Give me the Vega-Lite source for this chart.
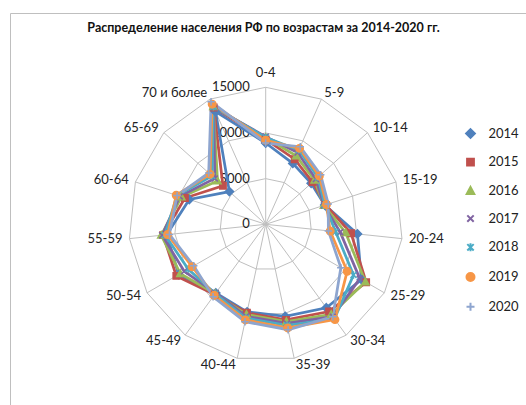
{
  "$schema": "https://vega.github.io/schema/vega-lite/v6.json",
  "width": 516,
  "height": 392,
  "autosize": {"type": "none"},
  "padding": {"left": 10, "top": 13, "right": 0, "bottom": 0},
  "background": "white",
  "config": {"view": {"stroke": "#BFBFBF", "strokeWidth": 1}, "font": "Lato"},
  "title": {"text": "Распределение населения РФ по возрастам за 2014-2020 гг.", "font": "Lato", "fontSize": 12.5, "fontWeight": "bold", "color": "#111111", "anchor": "middle", "frame": "group", "offset": -27, "baseline": "middle", "dx": -4.5},
  "datasets": {
    "cats": [
      {"age": "0-4", "i": 0}, {"age": "5-9", "i": 1}, {"age": "10-14", "i": 2}, {"age": "15-19", "i": 3},
      {"age": "20-24", "i": 4}, {"age": "25-29", "i": 5}, {"age": "30-34", "i": 6}, {"age": "35-39", "i": 7},
      {"age": "40-44", "i": 8}, {"age": "45-49", "i": 9}, {"age": "50-54", "i": 10}, {"age": "55-59", "i": 11},
      {"age": "60-64", "i": 12}, {"age": "65-69", "i": 13}, {"age": "70 и более", "i": 14}
    ],
    "ticks": [{"v": 0}, {"v": 5000}, {"v": 10000}, {"v": 15000}],
    "pop": [
      {"age": "0-4", "i": 0, "year": "2014", "v": 8900}, {"age": "5-9", "i": 1, "year": "2014", "v": 7300}, {"age": "10-14", "i": 2, "year": "2014", "v": 6700}, {"age": "15-19", "i": 3, "year": "2014", "v": 6800}, {"age": "20-24", "i": 4, "year": "2014", "v": 10100}, {"age": "25-29", "i": 5, "year": "2014", "v": 12100}, {"age": "30-34", "i": 6, "year": "2014", "v": 11300}, {"age": "35-39", "i": 7, "year": "2014", "v": 10300}, {"age": "40-44", "i": 8, "year": "2014", "v": 9800}, {"age": "45-49", "i": 9, "year": "2014", "v": 9300}, {"age": "50-54", "i": 10, "year": "2014", "v": 11000}, {"age": "55-59", "i": 11, "year": "2014", "v": 10900}, {"age": "60-64", "i": 12, "year": "2014", "v": 8800}, {"age": "65-69", "i": 13, "year": "2014", "v": 5350}, {"age": "70 и более", "i": 14, "year": "2014", "v": 13500},
      {"age": "0-4", "i": 0, "year": "2015", "v": 9300}, {"age": "5-9", "i": 1, "year": "2015", "v": 7800}, {"age": "10-14", "i": 2, "year": "2015", "v": 6900}, {"age": "15-19", "i": 3, "year": "2015", "v": 6900}, {"age": "20-24", "i": 4, "year": "2015", "v": 9400}, {"age": "25-29", "i": 5, "year": "2015", "v": 12700}, {"age": "30-34", "i": 6, "year": "2015", "v": 11800}, {"age": "35-39", "i": 7, "year": "2015", "v": 10700}, {"age": "40-44", "i": 8, "year": "2015", "v": 9900}, {"age": "45-49", "i": 9, "year": "2015", "v": 9500}, {"age": "50-54", "i": 10, "year": "2015", "v": 11300}, {"age": "55-59", "i": 11, "year": "2015", "v": 11300}, {"age": "60-64", "i": 12, "year": "2015", "v": 9300}, {"age": "65-69", "i": 13, "year": "2015", "v": 6300}, {"age": "70 и более", "i": 14, "year": "2015", "v": 14000},
      {"age": "0-4", "i": 0, "year": "2016", "v": 9500}, {"age": "5-9", "i": 1, "year": "2016", "v": 8200}, {"age": "10-14", "i": 2, "year": "2016", "v": 7200}, {"age": "15-19", "i": 3, "year": "2016", "v": 6700}, {"age": "20-24", "i": 4, "year": "2016", "v": 8800}, {"age": "25-29", "i": 5, "year": "2016", "v": 12600}, {"age": "30-34", "i": 6, "year": "2016", "v": 12200}, {"age": "35-39", "i": 7, "year": "2016", "v": 10900}, {"age": "40-44", "i": 8, "year": "2016", "v": 10100}, {"age": "45-49", "i": 9, "year": "2016", "v": 9400}, {"age": "50-54", "i": 10, "year": "2016", "v": 10800}, {"age": "55-59", "i": 11, "year": "2016", "v": 11500}, {"age": "60-64", "i": 12, "year": "2016", "v": 9700}, {"age": "65-69", "i": 13, "year": "2016", "v": 7100}, {"age": "70 и более", "i": 14, "year": "2016", "v": 14100},
      {"age": "0-4", "i": 0, "year": "2017", "v": 9600}, {"age": "5-9", "i": 1, "year": "2017", "v": 8600}, {"age": "10-14", "i": 2, "year": "2017", "v": 7400}, {"age": "15-19", "i": 3, "year": "2017", "v": 6700}, {"age": "20-24", "i": 4, "year": "2017", "v": 8200}, {"age": "25-29", "i": 5, "year": "2017", "v": 11900}, {"age": "30-34", "i": 6, "year": "2017", "v": 12500}, {"age": "35-39", "i": 7, "year": "2017", "v": 11100}, {"age": "40-44", "i": 8, "year": "2017", "v": 10300}, {"age": "45-49", "i": 9, "year": "2017", "v": 9300}, {"age": "50-54", "i": 10, "year": "2017", "v": 10300}, {"age": "55-59", "i": 11, "year": "2017", "v": 11400}, {"age": "60-64", "i": 12, "year": "2017", "v": 9900}, {"age": "65-69", "i": 13, "year": "2017", "v": 7500}, {"age": "70 и более", "i": 14, "year": "2017", "v": 14000},
      {"age": "0-4", "i": 0, "year": "2018", "v": 9500}, {"age": "5-9", "i": 1, "year": "2018", "v": 8900}, {"age": "10-14", "i": 2, "year": "2018", "v": 7700}, {"age": "15-19", "i": 3, "year": "2018", "v": 6800}, {"age": "20-24", "i": 4, "year": "2018", "v": 7700}, {"age": "25-29", "i": 5, "year": "2018", "v": 11100}, {"age": "30-34", "i": 6, "year": "2018", "v": 12800}, {"age": "35-39", "i": 7, "year": "2018", "v": 11300}, {"age": "40-44", "i": 8, "year": "2018", "v": 10500}, {"age": "45-49", "i": 9, "year": "2018", "v": 9400}, {"age": "50-54", "i": 10, "year": "2018", "v": 9800}, {"age": "55-59", "i": 11, "year": "2018", "v": 11100}, {"age": "60-64", "i": 12, "year": "2018", "v": 10200}, {"age": "65-69", "i": 13, "year": "2018", "v": 7900}, {"age": "70 и более", "i": 14, "year": "2018", "v": 14100},
      {"age": "0-4", "i": 0, "year": "2019", "v": 9200}, {"age": "5-9", "i": 1, "year": "2019", "v": 9100}, {"age": "10-14", "i": 2, "year": "2019", "v": 7900}, {"age": "15-19", "i": 3, "year": "2019", "v": 7000}, {"age": "20-24", "i": 4, "year": "2019", "v": 7100}, {"age": "25-29", "i": 5, "year": "2019", "v": 10300}, {"age": "30-34", "i": 6, "year": "2019", "v": 12900}, {"age": "35-39", "i": 7, "year": "2019", "v": 11600}, {"age": "40-44", "i": 8, "year": "2019", "v": 10700}, {"age": "45-49", "i": 9, "year": "2019", "v": 9600}, {"age": "50-54", "i": 10, "year": "2019", "v": 9300}, {"age": "55-59", "i": 11, "year": "2019", "v": 10800}, {"age": "60-64", "i": 12, "year": "2019", "v": 10300}, {"age": "65-69", "i": 13, "year": "2019", "v": 8200}, {"age": "70 и более", "i": 14, "year": "2019", "v": 14400},
      {"age": "0-4", "i": 0, "year": "2020", "v": 8900}, {"age": "5-9", "i": 1, "year": "2020", "v": 9300}, {"age": "10-14", "i": 2, "year": "2020", "v": 8100}, {"age": "15-19", "i": 3, "year": "2020", "v": 7200}, {"age": "20-24", "i": 4, "year": "2020", "v": 6900}, {"age": "25-29", "i": 5, "year": "2020", "v": 9500}, {"age": "30-34", "i": 6, "year": "2020", "v": 12500}, {"age": "35-39", "i": 7, "year": "2020", "v": 11800}, {"age": "40-44", "i": 8, "year": "2020", "v": 10900}, {"age": "45-49", "i": 9, "year": "2020", "v": 9800}, {"age": "50-54", "i": 10, "year": "2020", "v": 9100}, {"age": "55-59", "i": 11, "year": "2020", "v": 10600}, {"age": "60-64", "i": 12, "year": "2020", "v": 10200}, {"age": "65-69", "i": 13, "year": "2020", "v": 8400}, {"age": "70 и более", "i": 14, "year": "2020", "v": 14700}
    ]
  },
  "layer": [
    {
      "data": {"name": "cats"},
      "transform": [
        {"calculate": "[5000, 10000, 15000]", "as": "lv"},
        {"flatten": ["lv"]},
        {"calculate": "datum.i * 2 * PI / 15", "as": "a"},
        {"calculate": "datum.lv * sin(datum.a)", "as": "x"},
        {"calculate": "datum.lv * cos(datum.a)", "as": "y"}
      ],
      "mark": {"type": "line", "interpolate": "linear-closed", "stroke": "#BFBFBF", "strokeWidth": 1},
      "encoding": {
        "x": {"field": "x", "type": "quantitative", "scale": {"domain": [-27996, 28500], "nice": false, "zero": false}, "axis": null},
        "y": {"field": "y", "type": "quantitative", "scale": {"domain": [-19785, 23135], "nice": false, "zero": false}, "axis": null},
        "detail": {"field": "lv", "type": "nominal"},
        "order": {"field": "i", "type": "quantitative"}
      }
    },
    {
      "data": {"name": "cats"},
      "transform": [
        {"calculate": "datum.i * 2 * PI / 15", "as": "a"},
        {"calculate": "0", "as": "o"},
        {"calculate": "15000 * sin(datum.a)", "as": "xe"},
        {"calculate": "15000 * cos(datum.a)", "as": "ye"}
      ],
      "mark": {"type": "rule", "stroke": "#BFBFBF", "strokeWidth": 1},
      "encoding": {
        "x": {"field": "o", "type": "quantitative", "scale": {"domain": [-27996, 28500], "nice": false, "zero": false}, "axis": null},
        "y": {"field": "o", "type": "quantitative", "scale": {"domain": [-19785, 23135], "nice": false, "zero": false}, "axis": null},
        "x2": {"field": "xe"},
        "y2": {"field": "ye"}
      }
    },
    {
      "data": {"name": "ticks"},
      "transform": [{"calculate": "0", "as": "o"}],
      "mark": {"type": "text", "align": "right", "baseline": "middle", "dx": -16, "font": "Lato", "fontSize": 13, "fill": "#222222"},
      "encoding": {
        "x": {"field": "o", "type": "quantitative", "scale": {"domain": [-27996, 28500], "nice": false, "zero": false}, "axis": null},
        "y": {"field": "v", "type": "quantitative", "scale": {"domain": [-19785, 23135], "nice": false, "zero": false}, "axis": null},
        "text": {"field": "v", "type": "quantitative", "format": "d"}
      }
    },
    {
      "data": {"name": "pop"},
      "transform": [
        {"calculate": "datum.i * 2 * PI / 15", "as": "a"},
        {"calculate": "datum.v * sin(datum.a)", "as": "x"},
        {"calculate": "datum.v * cos(datum.a)", "as": "y"}
      ],
      "mark": {"type": "line", "interpolate": "linear-closed", "strokeWidth": 2.75},
      "encoding": {
        "x": {"field": "x", "type": "quantitative", "scale": {"domain": [-27996, 28500], "nice": false, "zero": false}, "axis": null},
        "y": {"field": "y", "type": "quantitative", "scale": {"domain": [-19785, 23135], "nice": false, "zero": false}, "axis": null},
        "color": {"field": "year", "type": "nominal", "scale": {"domain": ["2014", "2015", "2016", "2017", "2018", "2019", "2020"], "range": ["#4F81BD", "#C0504D", "#9BBB59", "#8064A2", "#4BACC6", "#F79646", "#8EA5CF"]}},
        "order": {"field": "i", "type": "quantitative"}
      }
    },
    {
      "data": {"name": "pop"},
      "transform": [
        {"calculate": "datum.i * 2 * PI / 15", "as": "a"},
        {"calculate": "datum.v * sin(datum.a)", "as": "x"},
        {"calculate": "datum.v * cos(datum.a)", "as": "y"}
      ],
      "mark": {"type": "point", "filled": true, "size": 56, "strokeWidth": 1.5, "opacity": 1, "stroke": {"expr": "scale('color', datum.year)"}},
      "encoding": {
        "x": {"field": "x", "type": "quantitative", "scale": {"domain": [-27996, 28500], "nice": false, "zero": false}, "axis": null},
        "y": {"field": "y", "type": "quantitative", "scale": {"domain": [-19785, 23135], "nice": false, "zero": false}, "axis": null},
        "color": {
          "field": "year", "type": "nominal",
          "scale": {"domain": ["2014", "2015", "2016", "2017", "2018", "2019", "2020"], "range": ["#4F81BD", "#C0504D", "#9BBB59", "#8064A2", "#4BACC6", "#F79646", "#8EA5CF"]},
          "legend": {"orient": "none", "legendX": 454, "legendY": 114, "title": null, "symbolSize": 64, "labelOffset": 11.5, "rowPadding": 12.7, "labelFont": "Lato", "labelFontSize": 13, "labelColor": "#222222", "padding": 0, "symbolStrokeWidth": 2, "symbolOpacity": 1,
            "encode": {"symbols": {
              "shape": {"signal": "['M-3.4,0H3.4M0,-1.1L1.1,0L0,1.1L-1.1,0Z','M-3.4,0H3.4M-0.85,-0.85H0.85V0.85H-0.85Z','M-3.4,0H3.4M0,-1L0.95,0.75H-0.95Z','M-3.4,0H3.4M-0.8,-0.8L0.8,0.8M-0.8,0.8L0.8,-0.8','M-3.4,0H3.4M-0.8,-0.8L0.8,0.8M-0.8,0.8L0.8,-0.8M0,-1V1','M-3.4,0H3.4M1,0A1,1,0,1,1,-1,0A1,1,0,1,1,1,0Z','M-3.4,0H3.4M0,-1V1'][indexof(['2014','2015','2016','2017','2018','2019','2020'], datum.value + '')]"},
              "stroke": {"scale": "color", "field": "value"},
              "fill": {"scale": "color", "field": "value"},
              "strokeWidth": {"value": 2}
            }}
          }
        },
        "shape": {
          "field": "year", "type": "nominal",
          "scale": {"domain": ["2014", "2015", "2016", "2017", "2018", "2019", "2020"], "range": ["M0,-1.1L1.1,0L0,1.1L-1.1,0Z", "M-0.85,-0.85H0.85V0.85H-0.85Z", "M0,-1L0.95,0.75H-0.95Z", "M-0.8,-0.8L0.8,0.8M-0.8,0.8L0.8,-0.8", "M-0.8,-0.8L0.8,0.8M-0.8,0.8L0.8,-0.8M0,-1V1", "M1,0A1,1,0,1,1,-1,0A1,1,0,1,1,1,0Z", "M-1,0H1M0,-1V1"]},
          "legend": null
        }
      }
    },
    {
      "data": {"name": "cats"},
      "transform": [
        {"calculate": "datum.i * 2 * PI / 15", "as": "a"},
        {"calculate": "sin(datum.a)", "as": "s"},
        {"calculate": "15766 * sin(datum.a)", "as": "x"},
        {"calculate": "15766 * cos(datum.a)", "as": "y"}
      ],
      "mark": {"type": "text", "font": "Lato", "fontSize": 13, "fill": "#222222",
        "align": {"expr": "datum.s > 0.1 ? 'left' : (datum.s < -0.1 ? 'right' : 'center')"},
        "baseline": {"expr": "datum.i == 0 ? 'bottom' : 'middle'"}},
      "encoding": {
        "x": {"field": "x", "type": "quantitative", "scale": {"domain": [-27996, 28500], "nice": false, "zero": false}, "axis": null},
        "y": {"field": "y", "type": "quantitative", "scale": {"domain": [-19785, 23135], "nice": false, "zero": false}, "axis": null},
        "text": {"field": "age", "type": "nominal"}
      }
    }
  ]
}
